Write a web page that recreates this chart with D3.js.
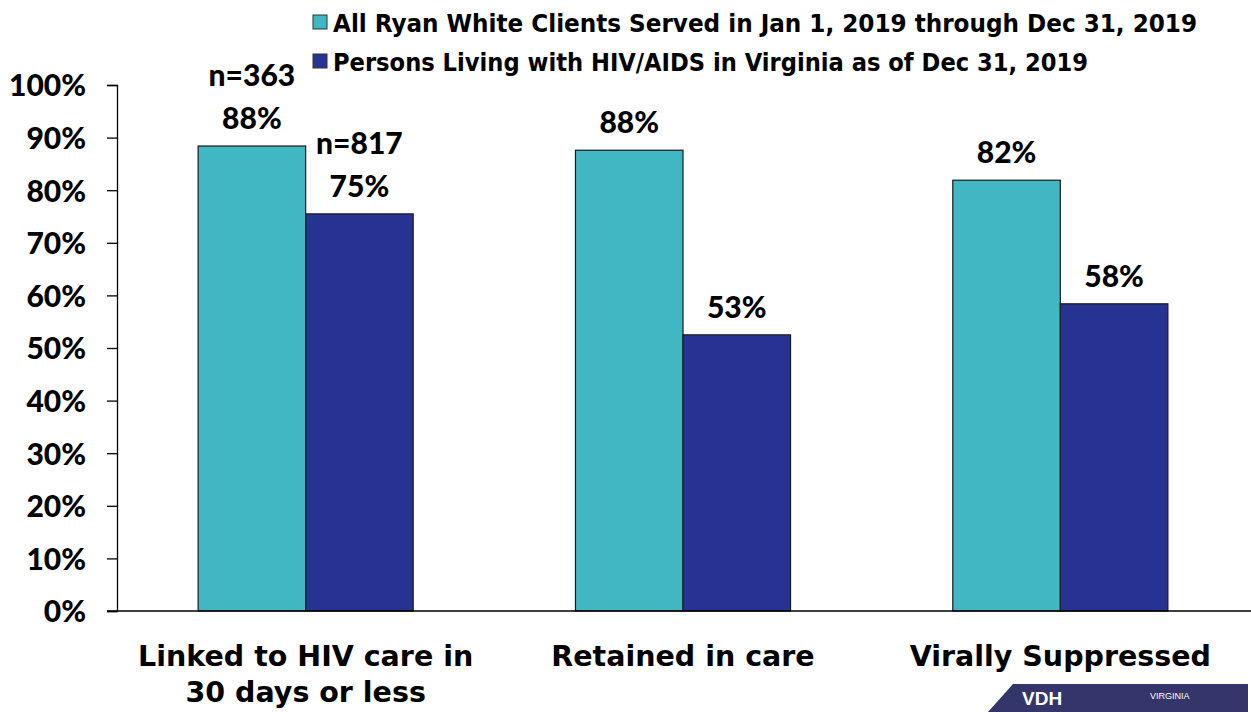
<!DOCTYPE html>
<html>
<meta charset="utf-8">
<style>
    body { margin: 0; background: #fff; }
    .tick text { font-family: Lato, "Liberation Sans", sans-serif; font-weight: 900; font-size: 30px; fill: #000; }
    .lbl { font-family: Lato, "Liberation Sans", sans-serif; font-weight: 900; font-size: 30px; fill: #000; }
    .cat { font-family: "DejaVu Sans", sans-serif; font-weight: bold; font-size: 28.5px; fill: #000; }
    .leg { font-family: "DejaVu Sans Condensed", "DejaVu Sans", sans-serif; font-weight: bold; font-size: 24px; fill: #000; }
</style>
<body>
<script src="https://cdnjs.cloudflare.com/ajax/libs/d3/7.8.5/d3.min.js"></script>
<div id="chart"></div>
<script>
// data
var categories = ["Linked to HIV care in|30 days or less", "Retained in care", "Virally Suppressed"];
var seriesNames = ["All Ryan White Clients Served in Jan 1, 2019 through Dec 31, 2019",
                   "Persons Living with HIV/AIDS in Virginia as of Dec 31, 2019"];
var ryanWhite = [88.4, 87.6, 81.9];
var plwha = [75.5, 52.5, 58.4];
var ryanLabels = ["88%", "88%", "82%"];
var plwhaLabels = ["75%", "53%", "58%"];
var nLabels = ["n=363", "n=817"];
var yTicks = [0, 10, 20, 30, 40, 50, 60, 70, 80, 90, 100];
var colors = ["#42b7c4", "#263393"];
var legendWidths = [864, 755];

var W = 1251, H = 712;
var svg = d3.select("#chart").append("svg").attr("width", W).attr("height", H);

var x0 = d3.scaleBand().domain(d3.range(categories.length)).range([117, 1249]).paddingInner(0.43).paddingOuter(0.215);
var x1 = d3.scaleBand().domain([0, 1]).range([0, x0.bandwidth()]);
var y = d3.scaleLinear().domain([0, 100]).range([611, 85]);

// y axis
var yAxis = svg.append("g").attr("transform", "translate(117,0)")
    .call(d3.axisLeft(y).tickValues(yTicks).tickFormat(function(d) { return d + "%"; }).tickSize(10).tickPadding(21));
yAxis.select(".domain").attr("stroke", "#000").attr("stroke-width", 1.3);
yAxis.selectAll(".tick line").attr("stroke", "#000").attr("stroke-width", 1.3);
yAxis.selectAll(".tick text").attr("dy", "0.36em");

// bars
var series = [ryanWhite, plwha];
series.forEach(function(vals, s) {
    svg.selectAll(".bar" + s).data(vals).enter().append("rect")
        .attr("x", function(d, i) { return x0(i) + x1(s); })
        .attr("y", function(d) { return y(d); })
        .attr("width", x1.bandwidth())
        .attr("height", function(d) { return y(0) - y(d); })
        .attr("fill", colors[s])
        .attr("stroke", "#1a1a1a")
        .attr("stroke-width", 1.2);
});

// x axis line
svg.append("line").attr("x1", 107).attr("x2", W).attr("y1", y(0)).attr("y2", y(0))
    .attr("stroke", "#000").attr("stroke-width", 1.3);

// value labels
var labelSets = [ryanLabels, plwhaLabels];
labelSets.forEach(function(labs, s) {
    labs.forEach(function(t, i) {
        var cx = x0(i) + x1(s) + x1.bandwidth() / 2;
        var top = y(series[s][i]);
        svg.append("text").attr("class", "lbl").attr("text-anchor", "middle")
            .attr("x", cx).attr("y", top - 17).text(t);
        if (i === 0) {
            svg.append("text").attr("class", "lbl").attr("text-anchor", "middle")
                .attr("x", cx).attr("y", top - 60).text(nLabels[s]);
        }
    });
});

// category labels
categories.forEach(function(c, i) {
    var cx = x0(i) + x0.bandwidth() / 2;
    c.split("|").forEach(function(line, k) {
        svg.append("text").attr("class", "cat").attr("text-anchor", "middle")
            .attr("x", cx).attr("y", 666 + k * 36).text(line);
    });
});

// legend
seriesNames.forEach(function(name, s) {
    var ly = 23 + s * 39;
    svg.append("rect").attr("x", 313).attr("y", ly - 8).attr("width", 14).attr("height", 14)
        .attr("fill", colors[s]).attr("stroke", "#333").attr("stroke-width", 1);
    svg.append("text").attr("class", "leg").attr("x", 333).attr("y", ly + 9)
        .attr("textLength", legendWidths[s]).attr("lengthAdjust", "spacingAndGlyphs").text(name);
});

// logo corner (cut off at the bottom of the slide)
var logo = svg.append("g");
logo.append("path").attr("d", "M988,712 L1013,684 L1248,684 L1248,712 Z").attr("fill", "#34356a");
logo.append("text").attr("x", 1022).attr("y", 705).attr("fill", "#fff")
    .attr("font-family", "Liberation Sans").attr("font-weight", "bold").attr("font-size", 19).text("VDH");
logo.append("text").attr("x", 1150).attr("y", 699).attr("fill", "#fff")
    .attr("font-family", "Liberation Sans").attr("font-size", 9).text("VIRGINIA");
</script>
</body>
</html>
